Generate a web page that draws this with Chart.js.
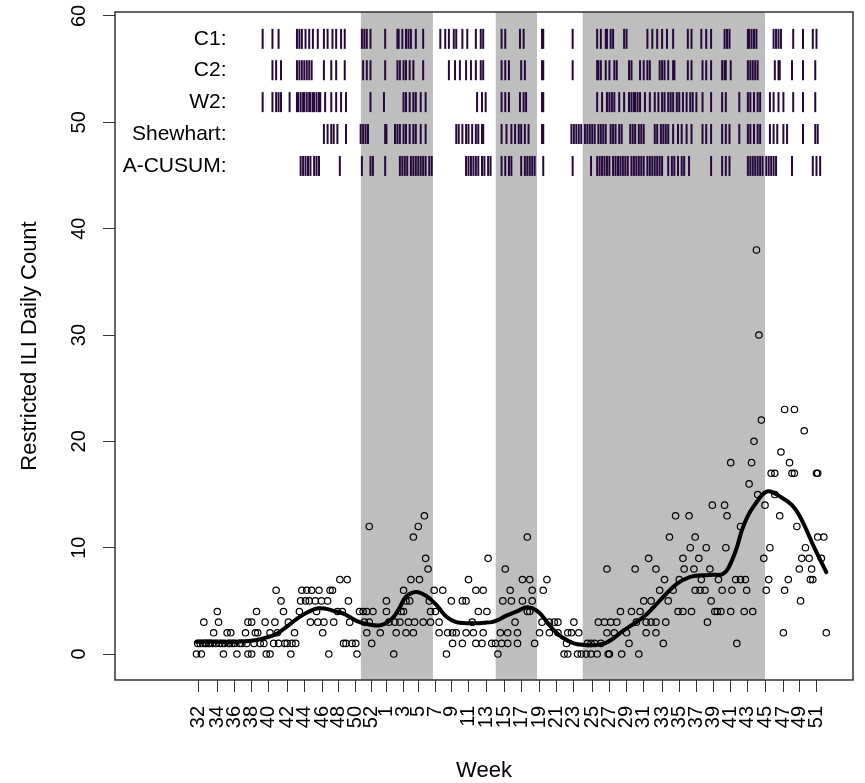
<!DOCTYPE html>
<html><head><meta charset="utf-8">
<script src="https://cdn.jsdelivr.net/npm/chart.js@4/dist/chart.umd.min.js"></script>
<style>html,body{margin:0;padding:0;background:#fff;}canvas{display:block;}</style>
</head><body>
<canvas id="c" width="865" height="783"></canvas>
<script>
// ---- data (x = day index of the observation series) ----
const weekLabels = ['32','34','36','38','40','42','44','46','48','50','52','1','3','5','7','9','11','13','15','17','19','21','23','25','27','29','31','33','35','37','39','41','43','45','47','49','51'];
const weekTickIdx = [0,15,29,43,57,72,86,101,114,128,141,153,167,179,193,206,220,235,249,263,278,292,306,321,335,349,363,378,392,406,420,434,448,462,477,490,504];
const yTickValues = [0,10,20,30,40,50,60];

// daily restricted ILI counts: [day, count]
const countPoints = [
[-2,0],[-1,1],[1,1],[2,0],[3,1],[4,3],[5,1],[6,1],[8,1],[9,1],[11,1],[12,2],[14,1],[15,4],[16,3],[17,1],[19,1],[20,0],[21,1],[23,2],[24,1],[25,1],[26,2],[27,1],[29,1],[31,0],[33,1],[35,1],[38,2],[39,1],[40,0],[40,3],[43,0],[43,3],[45,1],[46,2],[47,4],[48,2],[50,1],[53,1],[54,3],[55,0],[58,0],[58,2],[61,1],[62,3],[63,6],[64,2],[65,1],[67,5],[69,4],[70,1],[72,1],[73,3],[75,0],[76,1],[78,2],[79,1],[82,4],[83,5],[84,6],[87,5],[88,6],[90,5],[91,3],[92,6],[95,5],[96,4],[97,3],[98,6],[100,5],[101,2],[102,3],[105,5],[106,0],[107,6],[109,6],[110,3],[113,4],[115,7],[117,4],[118,1],[120,1],[121,7],[122,5],[123,3],[125,1],[128,1],[129,0],
[131,4],[134,4],[135,3],[137,2],[137,4],[139,3],[139,12],[141,1],[142,4],[148,2],[153,4],[153,5],[155,3],[159,0],[160,3],[161,2],[164,3],[165,4],[167,4],[167,6],[169,2],[169,5],[171,3],[172,5],[173,7],[175,2],[175,11],[176,3],[179,12],[180,7],[183,3],[184,13],[185,9],[187,8],[188,5],[189,3],[189,4],[192,6],[193,4],[196,2],[196,3],[199,6],[202,0],[203,2],[206,5],[207,1],[207,2],[210,2],[215,1],[215,5],[218,2],[218,5],[220,7],[223,3],[224,2],[226,1],[226,6],[228,4],[231,1],[232,2],[232,6],[235,4],[236,9],[239,1],[242,1],[244,0],[246,2],[247,1],[248,5],[250,8],[252,1],[252,2],[254,6],[255,5],[258,3],[260,1],[260,2],[264,5],[264,7],[268,4],[268,11],[270,4],[270,7],[272,5],[272,6],[274,1],[278,2],[280,3],[281,6],[284,7],[286,2],[286,3],[290,3],[293,2],[293,3],[298,0],[300,1],[301,0],[301,2],[304,2],[306,3],[309,0],[310,2],[312,0],[316,0],[317,1],[320,0],[320,1],[323,1],[325,0],[326,3],[328,1],[333,2],[333,8],[334,0],
[331,3],[335,0],[336,3],[339,2],[341,3],[344,4],[345,0],[349,2],[351,1],[353,4],[356,8],[357,3],[359,0],[360,4],[363,5],[365,2],[365,3],[367,9],[369,3],[369,5],[373,2],[373,3],[373,8],[376,6],[379,1],[380,7],[381,3],[383,5],[384,11],[387,6],[389,13],[391,4],[392,7],[395,4],[395,9],[396,8],[400,13],[401,10],[402,4],[404,8],[405,6],[405,11],[408,9],[409,6],[410,7],[413,6],[414,10],[415,3],[417,8],[418,5],[419,14],[421,4],[423,4],[424,7],[426,4],[427,6],[429,14],[430,10],[431,13],[434,4],[434,18],[435,6],[438,7],[439,1],[442,7],[442,12],[445,4],[446,7],[447,6],[449,16],[451,18],[452,4],[453,20],[455,38],[456,15],[457,30],[459,22],[461,9],[462,14],[463,6],[465,7],[466,10],[467,17],[470,15],[470,17],[474,13],[475,19],[477,2],[478,6],[478,23],[481,7],[482,18],[484,17],[486,17],[486,23],[488,12],[490,8],[491,5],[492,9],[494,21],[495,10],[498,9],[499,7],[500,8],[501,7],[504,17],[505,11],[505,17],[508,9],[510,11],[512,2]
];

// smoothed trend: [day, value]
const smoothCurve = [
[-2,1.15],[15,1.15],[30,1.15],[46,1.3],[55,1.55],[64,1.94],[72,2.6],[81,3.4],[89,3.95],[97,4.3],[104,4.25],[110,4.06],[118,3.8],[125,3.35],[131,3.0],[140,2.75],[148,2.7],[154,3.0],[159,3.5],[164,4.4],[169,5.4],[177,5.84],[185,5.5],[194,4.6],[202,3.5],[210,3.0],[218,2.9],[226,2.9],[233,2.95],[239,3.0],[245,3.25],[250,3.56],[260,4.03],[268,4.4],[277,3.97],[285,2.87],[290,2.2],[296,1.6],[306,1.0],[315,0.85],[323,0.84],[331,1.0],[336,1.3],[347,2.25],[355,2.85],[363,3.5],[371,4.4],[379,5.37],[390,6.6],[401,7.25],[411,7.4],[420,7.45],[427,7.5],[431,7.9],[435,8.8],[439,10.0],[443,11.6],[448,13.0],[454,14.1],[460,15.0],[465,15.3],[473,14.9],[484,14.0],[492,12.6],[502,10.06],[512,7.7]
];

// shaded (outbreak) periods
const shadedStart = [132,242,313];
const shadedEnd = [191,276,462];

// alarm days per method
const alarmNames = ['C1:','C2:','W2:','Shewhart:','A-CUSUM:'];
const alarmC1 = [52,60,65,80,82,84,87,90,93,97,102,105,109,112,116,119,133,135,137,140,152,162,163,166,169,171,173,177,183,197,201,204,208,210,215,219,226,230,232,247,250,262,265,280,281,305,325,328,332,333,336,338,347,349,366,370,374,378,382,387,399,402,410,414,418,429,431,433,448,449,451,453,455,469,471,473,475,485,493,501,504];
const alarmC2 = [60,63,67,80,82,84,86,88,90,92,102,108,112,119,134,137,140,152,162,164,167,169,172,175,183,204,209,213,218,222,226,230,232,247,250,253,263,266,280,281,305,325,326,328,332,335,339,341,351,353,360,363,366,368,376,378,380,383,387,388,399,402,411,414,418,427,429,430,434,448,450,452,454,456,470,473,474,484,493,503];
const alarmW2 = [52,60,63,65,67,74,80,81,83,85,86,88,90,91,93,94,96,98,99,103,108,112,116,120,140,151,167,169,172,175,177,181,185,227,231,234,247,250,253,262,265,267,280,281,325,329,333,335,337,339,343,347,351,353,355,356,358,360,364,368,372,375,378,380,383,385,387,390,392,395,398,401,403,406,411,418,427,430,441,448,450,453,456,458,466,469,473,477,485,493,503];
const alarmShewhart = [102,105,108,110,113,120,132,134,136,138,152,153,160,162,164,167,169,172,175,177,181,185,210,212,215,218,220,223,226,228,231,232,247,251,255,258,261,263,266,269,280,281,304,306,308,310,312,315,317,319,321,323,326,328,330,332,336,338,340,343,345,352,354,356,359,361,363,372,374,377,379,381,383,387,391,394,398,402,411,414,418,427,430,433,441,448,450,453,456,458,466,469,472,477,480,493,503,505];
const alarmCusum = [83,85,87,89,91,94,96,98,115,133,140,142,152,164,166,168,170,173,175,177,179,181,183,185,188,190,218,220,222,224,226,228,231,233,236,238,247,250,253,255,263,266,268,270,272,274,281,305,320,325,327,329,331,333,335,338,340,342,344,346,348,350,353,355,357,359,361,363,366,368,370,372,374,376,378,383,386,388,391,394,396,400,418,427,430,433,448,450,452,454,456,458,460,463,465,467,469,471,484,501,504,507];

// ---- layout / style constants ----
const X_MIN = -68.5, X_MAX = 533.8;
const Y_MIN = -2.44, Y_MAX = 60.375;
const ALARM_ROW_Y = [57.85, 54.9, 51.9, 48.9, 45.9];
const ALARM_LABEL_X = 22.5;
const FONT = '"Liberation Sans", Arial, Helvetica, sans-serif';
const alarmSeries = [alarmC1, alarmC2, alarmW2, alarmShewhart, alarmCusum];

const datasets = [];
shadedStart.forEach((s, i) => {
  datasets.push({
    type: 'line', data: [{x: s, y: Y_MAX + 5}, {x: shadedEnd[i], y: Y_MAX + 5}],
    fill: 'start', backgroundColor: '#bebebe', borderWidth: 0, pointRadius: 0, order: 10
  });
});
datasets.push({
  type: 'scatter', data: countPoints.map(p => ({x: p[0], y: p[1]})),
  pointStyle: 'circle', pointRadius: 3.2, pointBorderWidth: 1.2, pointBorderColor: '#000',
  pointBackgroundColor: 'rgba(0,0,0,0)', order: 5
});
datasets.push({
  type: 'line', data: smoothCurve.map(p => ({x: p[0], y: p[1]})),
  borderColor: '#000', borderWidth: 4, pointRadius: 0, tension: 0.4, fill: false,
  borderCapStyle: 'round', borderJoinStyle: 'round', order: 2
});
alarmSeries.forEach((days, i) => {
  datasets.push({
    type: 'scatter', data: days.map(d => ({x: d, y: ALARM_ROW_Y[i]})),
    pointStyle: 'line', pointRadius: 10, pointRotation: 90, pointBorderWidth: 2,
    pointBorderColor: '#25083c', order: 1
  });
});

const boxPlugin = {
  id: 'box',
  afterDraw(chart) {
    const {ctx, chartArea: a, scales: {x, y}} = chart;
    ctx.save();
    ctx.font = '21px ' + FONT;
    ctx.fillStyle = '#000';
    ctx.textAlign = 'right';
    ctx.textBaseline = 'middle';
    alarmNames.forEach((n, i) => ctx.fillText(n, x.getPixelForValue(ALARM_LABEL_X), y.getPixelForValue(ALARM_ROW_Y[i])));
    ctx.strokeStyle = '#333';
    ctx.lineWidth = 1.5;
    ctx.strokeRect(a.left, a.top, a.right - a.left, a.bottom - a.top);
    ctx.restore();
  }
};

new Chart(document.getElementById('c'), {
  type: 'scatter',
  data: {datasets},
  options: {
    responsive: false, animation: false, devicePixelRatio: 1, events: [],
    layout: {padding: {top: 10, right: 3, left: 0, bottom: 0}},
    plugins: {legend: {display: false}, tooltip: {enabled: false}},
    scales: {
      x: {
        type: 'linear', min: X_MIN, max: X_MAX,
        border: {display: false},
        grid: {drawOnChartArea: false, drawTicks: true, tickLength: 12, color: '#333', tickColor: '#333'},
        ticks: {autoSkip: false, minRotation: 90, maxRotation: 90, padding: 14, color: '#000',
          font: {family: FONT, size: 20},
          callback: (v) => { const i = weekTickIdx.indexOf(v); return i >= 0 ? weekLabels[i] : ''; }},
        afterBuildTicks: (s) => { s.ticks = weekTickIdx.map(v => ({value: v})); },
        afterFit: (s) => { s.height = 103; s.paddingLeft = 0; s.paddingRight = 0; },
        title: {display: true, text: 'Week', color: '#000', font: {family: FONT, size: 22, lineHeight: 1.1}, padding: {top: 0, bottom: 0}}
      },
      y: {
        type: 'linear', min: Y_MIN, max: Y_MAX,
        border: {display: false},
        grid: {drawOnChartArea: false, drawTicks: true, tickLength: 12, color: '#333', tickColor: '#333'},
        ticks: {minRotation: 90, maxRotation: 90, crossAlign: 'center', padding: 12, color: '#000',
          font: {family: FONT, size: 20}},
        afterBuildTicks: (s) => { s.ticks = yTickValues.map(v => ({value: v})); },
        afterFit: (s) => { s.width = 115; s.paddingTop = 0; s.paddingBottom = 0; },
        title: {display: true, text: 'Restricted ILI Daily Count', color: '#000', font: {family: FONT, size: 22, lineHeight: 1.1}, padding: {top: 18, bottom: 0}}
      }
    }
  },
  plugins: [boxPlugin]
});
</script></body></html>
